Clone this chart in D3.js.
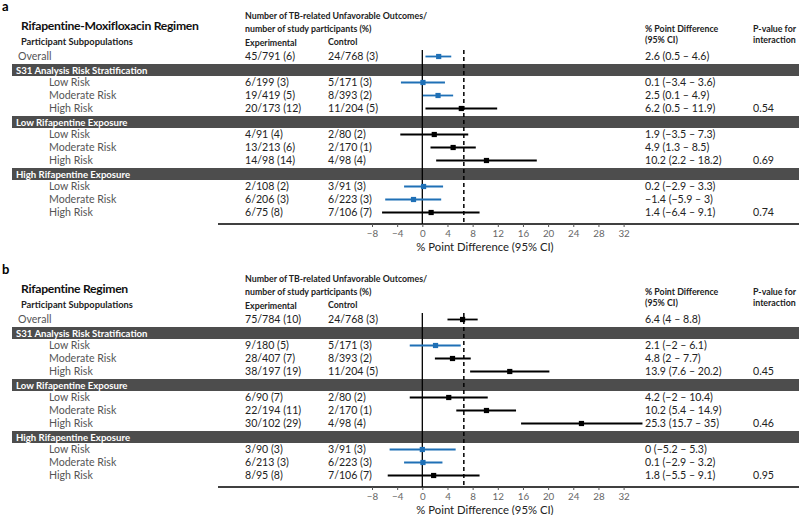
<!DOCTYPE html>
<html>
<head>
<meta charset="utf-8">
<script src="https://cdn.jsdelivr.net/npm/d3@7"></script>
<style>
  body { margin: 0; background: #fff; }
  svg { display: block; font-family: Lato, "Open Sans", sans-serif; }
</style>
</head>
<body>
<svg id="chart" width="799" height="515"></svg>
<script>
// groups and rows, shared by both panels
const sections = ["S31 Analysis Risk Stratification", "Low Rifapentine Exposure", "High Rifapentine Exposure"];
const risks = ["Low Risk", "Moderate Risk", "High Risk"];
const ticks = [-8, -4, 0, 4, 8, 12, 16, 20, 24, 28, 32];
const margin = 6.6;

// panel a: rifapentine-moxifloxacin
const aExperimental = ["45/791 (6)", "6/199 (3)", "19/419 (5)", "20/173 (12)", "4/91 (4)", "13/213 (6)", "14/98 (14)", "2/108 (2)", "6/206 (3)", "6/75 (8)"];
const aControl = ["24/768 (3)", "5/171 (3)", "8/393 (2)", "11/204 (5)", "2/80 (2)", "2/170 (1)", "4/98 (4)", "3/91 (3)", "6/223 (3)", "7/106 (7)"];
const aEstimate = [2.6, 0.1, 2.5, 6.2, 1.9, 4.9, 10.2, 0.2, -1.4, 1.4];
const aLower = [0.5, -3.4, 0.1, 0.5, -3.5, 1.3, 2.2, -2.9, -5.9, -6.4];
const aUpper = [4.6, 3.6, 4.9, 11.9, 7.3, 8.5, 18.2, 3.3, 3, 9.1];
const aPValue = ["0.54", "0.69", "0.74"];

// panel b: rifapentine
const bExperimental = ["75/784 (10)", "9/180 (5)", "28/407 (7)", "38/197 (19)", "6/90 (7)", "22/194 (11)", "30/102 (29)", "3/90 (3)", "6/213 (3)", "8/95 (8)"];
const bControl = ["24/768 (3)", "5/171 (3)", "8/393 (2)", "11/204 (5)", "2/80 (2)", "2/170 (1)", "4/98 (4)", "3/91 (3)", "6/223 (3)", "7/106 (7)"];
const bEstimate = [6.4, 2.1, 4.8, 13.9, 4.2, 10.2, 25.3, 0, 0.1, 1.8];
const bLower = [4, -2, 2, 7.6, -2, 5.4, 15.7, -5.2, -2.9, -5.5];
const bUpper = [8.8, 6.1, 7.7, 20.2, 10.4, 14.9, 35, 5.3, 3.2, 9.1];
const bPValue = ["0.45", "0.46", "0.95"];

const BLUE = "#1f70b6";
const BAR = "#4d4d4d";
const ROW_TEXT = "#555";

const svg = d3.select("#chart");
const x = d3.scaleLinear().domain([-8, 32]).range([372, 623.6]);

function fmt(v) {
  return v < 0 ? "\u2212" + Math.abs(v) : String(v);
}

// turn the arrays into the 13 table rows (overall, then section bar + 3 risks, x3)
function buildRows(exp, ctrl, est, lo, hi, pv) {
  let rows = [];
  rows.push({ kind: "data", label: "Overall", indent: false, exp: exp[0], ctrl: ctrl[0], est: est[0], lo: lo[0], hi: hi[0], p: "" });
  sections.forEach(function(s, si) {
    rows.push({ kind: "section", label: s });
    risks.forEach(function(r, ri) {
      let k = 1 + si * 3 + ri;
      rows.push({ kind: "data", label: r, indent: true, exp: exp[k], ctrl: ctrl[k], est: est[k], lo: lo[k], hi: hi[k], p: ri === 2 ? pv[si] : "" });
    });
  });
  return rows;
}

function drawPanel(top, letter, title, rows) {
  let g = svg.append("g").attr("transform", "translate(0," + top + ")");
  let rowY = function(i) { return 56.5 + 13 * i; };
  let axisY = 224;

  g.append("text").text(letter).attr("x", 2).attr("y", 11)
    .attr("font-size", 13).attr("font-weight", 700);
  g.append("text").text(title).attr("x", 21).attr("y", 30)
    .attr("font-size", 12.2).attr("font-weight", 700).attr("letter-spacing", -0.3).attr("fill", "#111");
  g.append("text").text("Participant Subpopulations").attr("x", 21).attr("y", 45)
    .attr("font-size", 9.3).attr("font-weight", 700).attr("fill", "#222");

  let head = [
    { t: "Number of TB-related Unfavorable Outcomes/", x: 245, y: 18.5 },
    { t: "number of study participants (%)", x: 245, y: 32 },
    { t: "Experimental", x: 245, y: 45.5 },
    { t: "Control", x: 328, y: 45 },
    { t: "% Point Difference", x: 645, y: 31.5 },
    { t: "(95% CI)", x: 645, y: 42.5 },
    { t: "P-value for", x: 753, y: 31.5 },
    { t: "interaction", x: 753, y: 42.5 }
  ];
  g.selectAll("text.head").data(head).enter().append("text")
    .attr("class", "head")
    .text(function(d) { return d.t; })
    .attr("x", function(d) { return d.x; })
    .attr("y", function(d) { return d.y; })
    .attr("font-size", 8.8).attr("font-weight", 700).attr("fill", "#222");

  // section bars
  let secRows = rows.map(function(r, i) { return { r: r, i: i }; }).filter(function(d) { return d.r.kind === "section"; });
  g.selectAll("rect.bar").data(secRows).enter().append("rect")
    .attr("x", 12).attr("width", 799 - 12)
    .attr("y", function(d) { return rowY(d.i) - 5.5; })
    .attr("height", 12)
    .attr("fill", BAR);
  g.selectAll("text.sec").data(secRows).enter().append("text")
    .text(function(d) { return d.r.label; })
    .attr("x", 16)
    .attr("y", function(d) { return rowY(d.i) + 4; })
    .attr("font-size", 9.6).attr("font-weight", 700).attr("fill", "#fff");

  let dataRows = rows.map(function(r, i) { return { r: r, i: i }; }).filter(function(d) { return d.r.kind === "data"; });

  let cols = [
    { key: function(r) { return r.label; }, x: function(r) { return r.indent ? 49 : 18; }, fill: ROW_TEXT },
    { key: function(r) { return r.exp; }, x: function() { return 245; }, fill: "#222" },
    { key: function(r) { return r.ctrl; }, x: function() { return 328; }, fill: "#222" },
    { key: function(r) { return fmt(r.est) + " (" + fmt(r.lo) + " \u2013 " + fmt(r.hi) + ")"; }, x: function() { return 645; }, fill: "#222" },
    { key: function(r) { return r.p; }, x: function() { return 753; }, fill: "#222" }
  ];
  cols.forEach(function(c) {
    g.append("g").selectAll("text").data(dataRows).enter().append("text")
      .text(function(d) { return c.key(d.r); })
      .attr("x", function(d) { return c.x(d.r); })
      .attr("y", function(d) { return rowY(d.i) + 3.7; })
      .attr("font-size", 10.6).attr("fill", c.fill);
  });

  // reference lines
  g.append("line").attr("x1", x(0)).attr("x2", x(0)).attr("y1", 50).attr("y2", axisY)
    .attr("stroke", "#000").attr("stroke-width", 1.3);
  g.append("line").attr("x1", x(margin)).attr("x2", x(margin)).attr("y1", 50).attr("y2", axisY)
    .attr("stroke", "#000").attr("stroke-width", 1.5).attr("stroke-dasharray", "4,3");

  // confidence intervals and point estimates
  let colorOf = function(r) { return r.hi < margin ? BLUE : "#000"; };
  g.append("g").selectAll("line").data(dataRows).enter().append("line")
    .attr("x1", function(d) { return x(d.r.lo); })
    .attr("x2", function(d) { return x(d.r.hi); })
    .attr("y1", function(d) { return rowY(d.i); })
    .attr("y2", function(d) { return rowY(d.i); })
    .attr("stroke", function(d) { return colorOf(d.r); })
    .attr("stroke-width", 1.8);
  g.append("g").selectAll("rect").data(dataRows).enter().append("rect")
    .attr("x", function(d) { return x(d.r.est) - 2.6; })
    .attr("y", function(d) { return rowY(d.i) - 2.6; })
    .attr("width", 5.2).attr("height", 5.2)
    .attr("fill", function(d) { return colorOf(d.r); });

  // x axis
  g.append("line").attr("x1", 218).attr("x2", 799).attr("y1", axisY).attr("y2", axisY)
    .attr("stroke", "#000").attr("stroke-width", 1.5);
  let axis = d3.axisBottom(x).tickValues(ticks).tickSize(3).tickSizeOuter(0)
    .tickFormat(function(d) { return fmt(d); });
  let ax = g.append("g").attr("transform", "translate(0," + axisY + ")").call(axis);
  ax.select(".domain").remove();
  ax.selectAll(".tick line").attr("stroke", "#555");
  ax.selectAll(".tick text").attr("fill", "#666").attr("font-size", 9.8)
    .attr("font-family", "Lato, sans-serif").attr("dy", "0.71em").attr("y", 6);
  g.append("text").text("% Point Difference (95% CI)")
    .attr("x", 485).attr("y", 250.5).attr("text-anchor", "middle")
    .attr("font-size", 11.3).attr("fill", "#222");
}

drawPanel(0, "a", "Rifapentine-Moxifloxacin Regimen",
  buildRows(aExperimental, aControl, aEstimate, aLower, aUpper, aPValue));
drawPanel(263, "b", "Rifapentine Regimen",
  buildRows(bExperimental, bControl, bEstimate, bLower, bUpper, bPValue));
</script>
</body>
</html>
